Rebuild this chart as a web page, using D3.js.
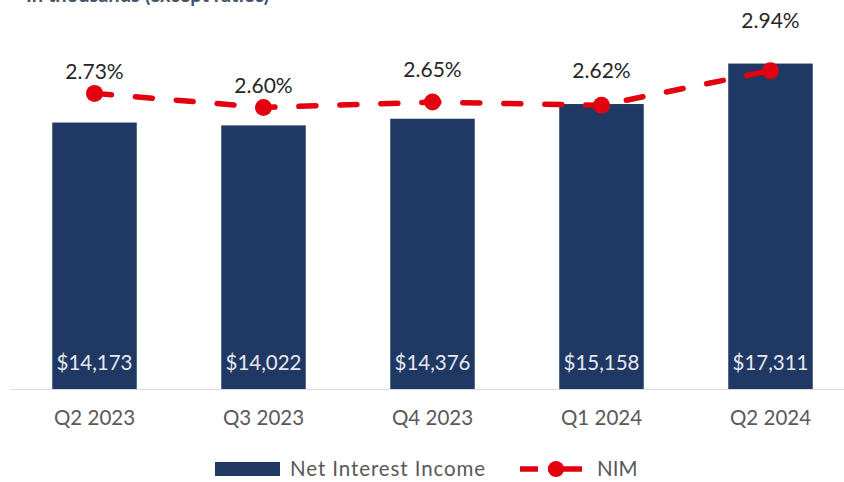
<!DOCTYPE html>
<html>
<head>
<meta charset="utf-8">
<script src="https://cdn.jsdelivr.net/npm/d3@7"></script>
<style>
  html, body { margin: 0; padding: 0; background: #ffffff; }
  svg { display: block; font-family: Lato, "Open Sans", sans-serif; }
</style>
</head>
<body>
<svg id="chart" width="844" height="482"></svg>
<script>
// Quarterly net interest income (in thousands) and net interest margin (%)
const quarters = ["Q2 2023", "Q3 2023", "Q4 2023", "Q1 2024", "Q2 2024"];
const netInterestIncome = [14173, 14022, 14376, 15158, 17311];
const nim = [2.73, 2.60, 2.65, 2.62, 2.94];
const seriesNames = ["Net Interest Income", "NIM"];
const subtitle = "In thousands (except ratios)";

// Layout: how far each NIM label sits above its marker
const labelLift = [22, 22, 33, 35, 50];

const navy = "#1f3864";
const red = "#e3000f";
const grey = "#595959";

const svg = d3.select("#chart");
const baseY = 389;

const x = d3.scaleBand()
  .domain(quarters)
  .range([10, 855])
  .paddingInner(0.5)
  .paddingOuter(0.25);

const yBar = d3.scaleLinear().domain([0, 20000]).range([baseY, 13]);
const yNim = d3.scaleLinear().domain([0, 3.5]).range([baseY, 10]);

// Subtitle, running off the top edge
svg.append("text")
  .attr("x", 26).attr("y", 2)
  .attr("font-size", 20).attr("font-weight", 700)
  .attr("fill", "#44546a")
  .text(subtitle);

// Bars
svg.append("g").selectAll("rect")
  .data(quarters)
  .join("rect")
  .attr("x", d => x(d))
  .attr("width", x.bandwidth())
  .attr("y", (d, i) => yBar(netInterestIncome[i]))
  .attr("height", (d, i) => baseY - yBar(netInterestIncome[i]))
  .attr("fill", navy);

// Bar value labels
const fmt = d3.format(",");
svg.append("g").selectAll("text")
  .data(quarters)
  .join("text")
  .attr("x", d => x(d) + x.bandwidth() / 2)
  .attr("y", 370)
  .attr("text-anchor", "middle")
  .attr("font-size", 20.5)
  .attr("fill", "#e8e8ee")
  .text((d, i) => "$" + fmt(netInterestIncome[i]));

// Category axis
const axis = svg.append("g")
  .attr("transform", `translate(0,${baseY})`)
  .call(d3.axisBottom(x).tickSize(0).tickPadding(21));
axis.select(".domain").attr("stroke", "#d9d9d9").attr("stroke-width", 1.2);
axis.selectAll("text")
  .attr("font-size", 20.5)
  .attr("font-family", "Lato, 'Open Sans', sans-serif")
  .attr("fill", grey);

// NIM dashed line with markers
const nimPts = quarters.map((q, i) => [x(q) + x.bandwidth() / 2, yNim(nim[i])]);
svg.append("path")
  .datum(nimPts)
  .attr("d", d3.line())
  .attr("fill", "none")
  .attr("stroke", red)
  .attr("stroke-width", 5.5)
  .attr("stroke-dasharray", "17,24")
  .attr("stroke-linecap", "round");

svg.append("g").selectAll("circle")
  .data(nimPts)
  .join("circle")
  .attr("cx", d => d[0])
  .attr("cy", d => d[1])
  .attr("r", 8.5)
  .attr("fill", red);

// NIM labels
svg.append("g").selectAll("text")
  .data(quarters)
  .join("text")
  .attr("x", d => x(d) + x.bandwidth() / 2)
  .attr("y", (d, i) => yNim(nim[i]) - labelLift[i] + 7.5)
  .attr("text-anchor", "middle")
  .attr("font-size", 21)
  .attr("fill", "#262626")
  .text((d, i) => nim[i].toFixed(2) + "%");

// Legend
const legend = svg.append("g");
legend.append("rect")
  .attr("x", 215).attr("y", 462).attr("width", 65).attr("height", 14)
  .attr("fill", navy);
legend.append("text")
  .attr("x", 290).attr("y", 476)
  .attr("font-size", 20.5).attr("fill", grey)
  .attr("letter-spacing", 0.9)
  .text(seriesNames[0]);
legend.append("line")
  .attr("x1", 520).attr("x2", 582).attr("y1", 469).attr("y2", 469)
  .attr("stroke", red).attr("stroke-width", 5.5)
  .attr("stroke-dasharray", "18,10,40");
legend.append("circle")
  .attr("cx", 556).attr("cy", 469).attr("r", 8)
  .attr("fill", red);
legend.append("text")
  .attr("x", 597).attr("y", 476)
  .attr("font-size", 20.5).attr("fill", grey)
  .text(seriesNames[1]);
</script>
</body>
</html>
